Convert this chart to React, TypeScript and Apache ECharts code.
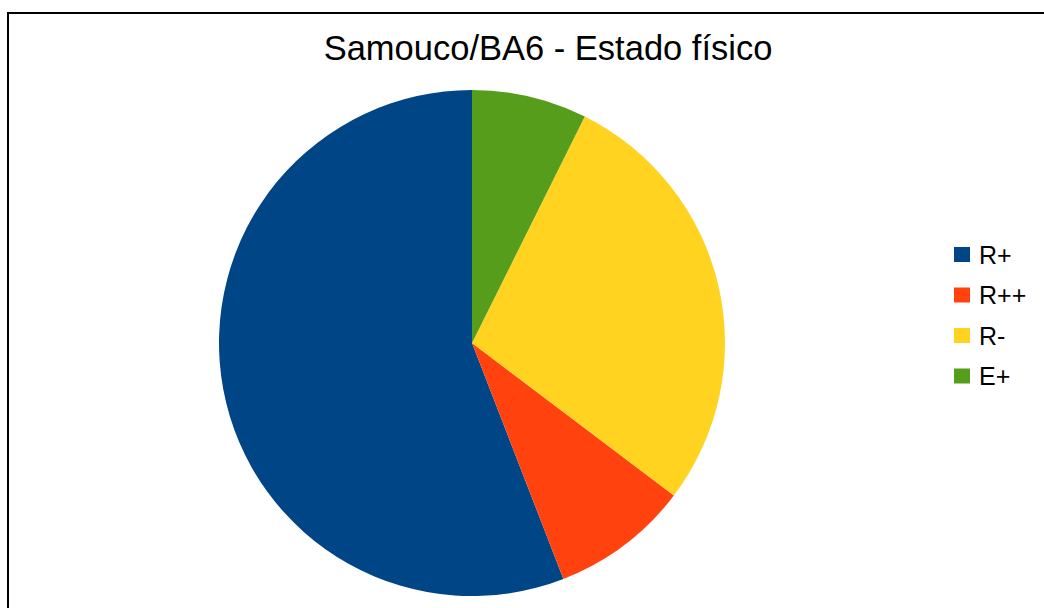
import React, { useEffect, useRef } from "react";
import * as echarts from "echarts";

const categories = ["R+", "R++", "R-", "E+"];
const values = [38, 6, 19, 5];
const colors = ["#004586", "#ff420e", "#ffd320", "#579d1c"];
const titleText = "Samouco/BA6 - Estado físico";

export default function App() {
  const ref = useRef<HTMLDivElement>(null);
  useEffect(() => {
    if (!ref.current) return;
    const chart = echarts.init(ref.current, undefined, { renderer: "svg" });
    chart.setOption({
      animation: false,
      backgroundColor: "#ffffff",
      color: colors,
      title: {
        text: titleText,
        left: 543,
        textAlign: "center",
        top: 25,
        textStyle: {
          fontFamily: "Liberation Sans",
          fontSize: 34.5,
          fontWeight: "normal",
          color: "#000000",
        },
      },
      legend: {
        orient: "vertical",
        left: 949,
        top: 237,
        itemWidth: 16,
        itemHeight: 15,
        itemGap: 15.5,
        icon: "rect",
        data: categories,
        textStyle: {
          fontFamily: "Liberation Sans",
          fontSize: 25,
          color: "#000000",
          padding: [0, 0, 0, 4],
          lineHeight: 24,
        },
      },
      graphic: [
        {
          type: "rect",
          shape: { x: 8, y: 13, width: 1200, height: 800 },
          style: { fill: "none", stroke: "#000000", lineWidth: 2 },
          silent: true,
        },
      ],
      series: [
        {
          type: "pie",
          center: [472, 343],
          radius: 253,
          startAngle: 90,
          clockwise: false,
          label: { show: false },
          labelLine: { show: false },
          itemStyle: { borderWidth: 0 },
          emphasis: { disabled: true },
          data: categories.map((c, i) => ({ name: c, value: values[i] })),
        },
      ],
    });
    return () => chart.dispose();
  }, []);
  return (
    <div
      ref={ref}
      style={{ width: 1044, height: 608, position: "absolute", left: 0, top: 0 }}
    />
  );
}
